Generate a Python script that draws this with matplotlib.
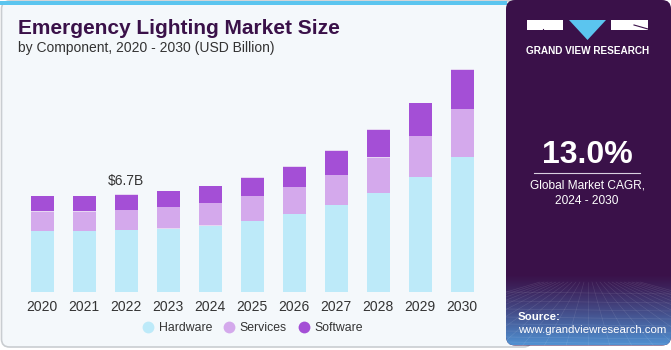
import matplotlib.pyplot as plt
import numpy as np
from matplotlib.patches import FancyBboxPatch, Rectangle, Polygon

plt.rcParams['font.family'] = ['Liberation Sans', 'DejaVu Sans']

# market size by component, USD billion
years = ['2020', '2021', '2022', '2023', '2024', '2025', '2026', '2027', '2028', '2029', '2030']
hardware = [4.18, 4.18, 4.25, 4.37, 4.59, 4.89, 5.35, 5.97, 6.81, 7.89, 9.26]
services = [1.37, 1.37, 1.39, 1.46, 1.53, 1.69, 1.85, 2.08, 2.43, 2.81, 3.29]
software = [1.03, 1.03, 1.06, 1.10, 1.17, 1.28, 1.42, 1.67, 1.92, 2.26, 2.72]
series_names = ['Hardware', 'Services', 'Software']
series_colors = ['#BDEAF9', '#D4A9EC', '#A44FD6']
callout_year = '2022'
callout_text = '$6.7B'

W, H = 671, 350
fig = plt.figure(figsize=(W / 100, H / 100), dpi=100, facecolor='white')

# background layer in pixel coordinates
bg = fig.add_axes([0, 0, 1, 1])
bg.set_xlim(0, W)
bg.set_ylim(H, 0)
bg.axis('off')

card = FancyBboxPatch((1.5, 1), 530, 346, boxstyle='round,pad=0,rounding_size=8',
                      facecolor='#F4F8FB', edgecolor='#C9CDD1', linewidth=1.2)
bg.add_patch(card)
bg.add_patch(Rectangle((0, 0.8), 507, 4.4, facecolor='#5BC5EF', edgecolor='none'))

# right panel
panel = FancyBboxPatch((506, 0), 165, 345.5, boxstyle='round,pad=0,rounding_size=9',
                       facecolor='#3A1149', edgecolor='none')
bg.add_patch(panel)
grad = np.linspace(0, 1, 100)[:, None]
c0 = np.array([58, 17, 73]) / 255
c1 = np.array([80, 145, 210]) / 255
rgb = c0 + (c1 - c0) * (grad[..., None] ** 1.2)
rgb = np.repeat(rgb, 2, axis=1)
im = bg.imshow(rgb, extent=(506, 671, 345.5, 275), aspect='auto', zorder=2)
im.set_clip_path(panel)
# faint perspective grid in the panel footer
for k in range(-12, 14):
    ln, = bg.plot([588 + k * 4, 588 + k * 22], [282, 346], color='white', lw=0.4, alpha=0.12, zorder=3)
    ln.set_clip_path(panel)
for yy in [292, 301, 309, 317, 324, 331, 337, 342]:
    ln, = bg.plot([506, 671], [yy, yy + 2], color='white', lw=0.4, alpha=0.12, zorder=3)
    ln.set_clip_path(panel)

# logo
bg.add_patch(Rectangle((527, 20), 36, 10, facecolor='white', edgecolor='none', zorder=4))
bg.plot([543, 563], [30, 30], color='#3A1149', lw=0.6, zorder=5)
bg.plot([543, 543], [28.5, 30], color='#3A1149', lw=0.8, zorder=5)
bg.add_patch(Polygon([(569, 20), (606, 20), (587.5, 40)], closed=True,
                     facecolor='#5BC5EF', edgecolor='none', zorder=4))
bg.add_patch(Rectangle((611, 20), 37, 10, facecolor='white', edgecolor='none', zorder=4))
bg.plot([634, 648], [25, 29], color='#3A1149', lw=0.8, zorder=5)
bg.text(587.5, 51, 'GRAND VIEW RESEARCH', color='white', fontsize=7.2, fontweight='bold',
        ha='center', va='center', zorder=5)

bg.text(587, 155, '13.0%', color='white', fontsize=23, fontweight='bold',
        ha='center', va='center', zorder=5)
bg.plot([534, 640], [173, 173], color='#D9D0E0', lw=0.8, zorder=5)
bg.text(587, 186, 'Global Market CAGR,', color='white', fontsize=8.6,
        ha='center', va='center', zorder=5)
bg.text(587, 201, '2024 - 2030', color='white', fontsize=8.6,
        ha='center', va='center', zorder=5)
bg.text(518, 317, 'Source:', color='white', fontsize=8.2, fontweight='bold',
        ha='left', va='center', zorder=5)
bg.text(518, 330, 'www.grandviewresearch.com', color='white', fontsize=8.2,
        ha='left', va='center', zorder=5)

# titles
bg.text(18, 28, 'Emergency Lighting Market Size', color='#3A1149', fontsize=15,
        fontweight='bold', ha='left', va='center')
bg.text(18, 48, 'by Component, 2020 - 2030 (USD Billion)', color='#333333', fontsize=10,
        ha='left', va='center')

# chart axes
ax_l, ax_r, ax_t, ax_b = 21.3, 483.3, 60, 292
ax = fig.add_axes([ax_l / W, 1 - ax_b / H, (ax_r - ax_l) / W, (ax_b - ax_t) / H])
ax.patch.set_alpha(0)
x = np.arange(len(years))
bottom = np.zeros(len(years))
for vals, name, col in zip([hardware, services, software], series_names, series_colors):
    ax.bar(x, vals, width=0.55, bottom=bottom, color=col, label=name, linewidth=0)
    bottom = bottom + np.array(vals)
    # thin light cap on each segment
    ax.bar(x, 0.03, width=0.55, bottom=bottom - 0.03, color='#E6D6F2', linewidth=0)

ax.set_xlim(-0.5, len(years) - 0.5)
ax.set_ylim(0, (ax_b - ax_t) * 6.7 / 97.7)
ax.set_xticks(x, years)
ax.tick_params(axis='x', length=0, pad=6, labelsize=10, labelcolor='#333333')
ax.set_yticks([])
for s in ax.spines.values():
    s.set_visible(False)

i = years.index(callout_year)
ax.text(x[i], bottom[i] + 0.4, callout_text, ha='center', va='bottom', fontsize=10, color='#333333')

# round markers for the legend
handles = [plt.Line2D([], [], marker='o', linestyle='none', markersize=8.5,
                      markerfacecolor=c, markeredgecolor='none') for c in series_colors]
ax.legend(handles, series_names, loc='center', bbox_to_anchor=(0.5, -0.155), ncol=3,
          frameon=False, fontsize=8.8, handlelength=1.0, handletextpad=0.35,
          columnspacing=0.9, labelcolor='#333333')

fig.savefig('out.png', dpi=100, facecolor='white')
